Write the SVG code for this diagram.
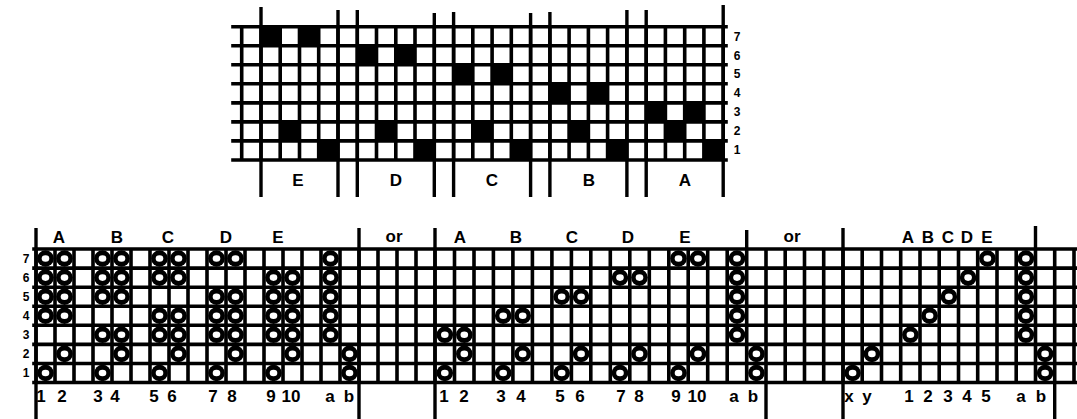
<svg xmlns="http://www.w3.org/2000/svg" width="1077" height="419" viewBox="0 0 1077 419">
<style>
.grid{fill:none;stroke:#000;stroke-width:3.6;stroke-linecap:square}
.div{fill:none;stroke:#000;stroke-width:3.4}
.blk{fill:#000}
.t{font-family:"Liberation Sans",Arial,sans-serif;font-weight:bold;fill:#000;text-anchor:middle}
.L{font-size:17px}
.N{font-size:17px}
.s{font-size:12px}
</style>
<defs>
<g id="o"><circle r="8.3" fill="#000"/><ellipse rx="3.8" ry="3.3" fill="#fff"/></g>
</defs>
<rect width="1077" height="419" fill="#fff"/>

<g id="top-draft">
<g id="top-cells" class="blk">
<rect x="261.0" y="26.7" width="19.3" height="19.1"/><rect x="299.5" y="26.7" width="19.3" height="19.1"/>
<rect x="357.3" y="45.7" width="19.3" height="19.1"/><rect x="395.8" y="45.7" width="19.3" height="19.1"/>
<rect x="453.6" y="64.8" width="19.3" height="19.1"/><rect x="492.1" y="64.8" width="19.3" height="19.1"/>
<rect x="549.9" y="83.8" width="19.3" height="19.1"/><rect x="588.4" y="83.8" width="19.3" height="19.1"/>
<rect x="646.2" y="102.9" width="19.3" height="19.1"/><rect x="684.7" y="102.9" width="19.3" height="19.1"/>
<rect x="280.2" y="121.9" width="19.3" height="19.1"/><rect x="376.5" y="121.9" width="19.3" height="19.1"/><rect x="472.8" y="121.9" width="19.3" height="19.1"/><rect x="569.1" y="121.9" width="19.3" height="19.1"/><rect x="665.4" y="121.9" width="19.3" height="19.1"/>
<rect x="318.7" y="140.9" width="19.3" height="19.1"/><rect x="415.0" y="140.9" width="19.3" height="19.1"/><rect x="511.3" y="140.9" width="19.3" height="19.1"/><rect x="607.6" y="140.9" width="19.3" height="19.1"/><rect x="703.9" y="140.9" width="19.3" height="19.1"/>
</g>
<path class="grid" d="M233 26.7H726M233 45.7H726M233 64.8H726M233 83.8H726M233 102.9H726M233 121.9H726M233 140.9H726M233 160H726
M241.7 26.7V160M261 26.7V160M280.2 26.7V160M299.5 26.7V160M318.7 26.7V160M338 26.7V160M357.3 26.7V160M376.5 26.7V160M395.8 26.7V160M415 26.7V160M434.3 26.7V160M453.6 26.7V160M472.8 26.7V160M492.1 26.7V160M511.3 26.7V160M530.6 26.7V160M549.9 26.7V160M569.1 26.7V160M588.4 26.7V160M607.6 26.7V160M626.9 26.7V160M646.2 26.7V160M665.4 26.7V160M684.7 26.7V160M703.9 26.7V160M723.2 26.7V160"/>
<path class="div" d="M261 7V197M338 10V197M357.3 10V197M434.3 13V197M453.6 12V197M530.6 13V197M549.9 12V197M626.9 10V197M646.2 10V197"/>
<path class="div" stroke-width="4" d="M723.2 5V197"/>
<g id="top-letters" class="t L">
<text x="298" y="186">E</text><text x="396" y="186">D</text><text x="492" y="186">C</text><text x="589" y="186">B</text><text x="685" y="186">A</text>
</g>
<g id="top-rows" class="t s">
<text x="737" y="41">7</text><text x="737" y="60">6</text><text x="737" y="78">5</text><text x="737" y="97">4</text><text x="737" y="116">3</text><text x="737" y="135">2</text><text x="737" y="154">1</text>
</g>
</g>

<g id="bottom-draft">
<path class="grid" d="M34 249H1077M34 268.1H1077M34 287.2H1077M34 306.2H1077M34 325.3H1077M34 344.4H1077M34 363.5H1077M34 382.5H1077
M36 249V382.5M55 249V382.5M74 249V382.5M93 249V382.5M112 249V382.5M131 249V382.5M150 249V382.5M169 249V382.5M188 249V382.5M207 249V382.5M226 249V382.5M245 249V382.5M264 249V382.5M283 249V382.5M302 249V382.5M321 249V382.5M340 249V382.5M359 249V382.5M378 249V382.5M397 249V382.5M416 249V382.5M435 249V382.5
M454.5 249V382.5M474 249V382.5M493.4 249V382.5M512.9 249V382.5M532.4 249V382.5M551.9 249V382.5M571.4 249V382.5M590.8 249V382.5M610.3 249V382.5M629.8 249V382.5M649.3 249V382.5M668.8 249V382.5M688.2 249V382.5M707.7 249V382.5M727.2 249V382.5M746.7 249V382.5
M766 249V382.5M785.2 249V382.5M804.5 249V382.5M823.7 249V382.5M843 249V382.5M862.2 249V382.5M881.5 249V382.5M900.7 249V382.5M920 249V382.5M939.2 249V382.5M958.5 249V382.5M977.7 249V382.5M997 249V382.5M1016.2 249V382.5M1035.5 249V382.5M1054.7 249V382.5M1074 249V382.5"/>
<path class="div" d="M359 228V419M435 228V419M746.7 230V249M766 382V419M843 228V419M1035.5 226V249M1054.7 382V419"/>
<path class="div" stroke-width="4" d="M36 228V419"/>

<g id="marks-1">
<use href="#o" x="45.5" y="258.5"/><use href="#o" x="64.5" y="258.5"/><use href="#o" x="102.5" y="258.5"/><use href="#o" x="121.5" y="258.5"/><use href="#o" x="159.5" y="258.5"/><use href="#o" x="178.5" y="258.5"/><use href="#o" x="216.5" y="258.5"/><use href="#o" x="235.5" y="258.5"/><use href="#o" x="330.5" y="258.5"/>
<use href="#o" x="45.5" y="277.6"/><use href="#o" x="64.5" y="277.6"/><use href="#o" x="102.5" y="277.6"/><use href="#o" x="121.5" y="277.6"/><use href="#o" x="159.5" y="277.6"/><use href="#o" x="178.5" y="277.6"/><use href="#o" x="273.5" y="277.6"/><use href="#o" x="292.5" y="277.6"/><use href="#o" x="330.5" y="277.6"/>
<use href="#o" x="45.5" y="296.7"/><use href="#o" x="64.5" y="296.7"/><use href="#o" x="102.5" y="296.7"/><use href="#o" x="121.5" y="296.7"/><use href="#o" x="216.5" y="296.7"/><use href="#o" x="235.5" y="296.7"/><use href="#o" x="273.5" y="296.7"/><use href="#o" x="292.5" y="296.7"/><use href="#o" x="330.5" y="296.7"/>
<use href="#o" x="45.5" y="315.7"/><use href="#o" x="64.5" y="315.7"/><use href="#o" x="159.5" y="315.7"/><use href="#o" x="178.5" y="315.7"/><use href="#o" x="216.5" y="315.7"/><use href="#o" x="235.5" y="315.7"/><use href="#o" x="273.5" y="315.7"/><use href="#o" x="292.5" y="315.7"/><use href="#o" x="330.5" y="315.7"/>
<use href="#o" x="102.5" y="334.8"/><use href="#o" x="121.5" y="334.8"/><use href="#o" x="159.5" y="334.8"/><use href="#o" x="178.5" y="334.8"/><use href="#o" x="216.5" y="334.8"/><use href="#o" x="235.5" y="334.8"/><use href="#o" x="273.5" y="334.8"/><use href="#o" x="292.5" y="334.8"/><use href="#o" x="330.5" y="334.8"/>
<use href="#o" x="64.5" y="353.9"/><use href="#o" x="121.5" y="353.9"/><use href="#o" x="178.5" y="353.9"/><use href="#o" x="235.5" y="353.9"/><use href="#o" x="292.5" y="353.9"/><use href="#o" x="349.5" y="353.9"/>
<use href="#o" x="45.5" y="373"/><use href="#o" x="102.5" y="373"/><use href="#o" x="159.5" y="373"/><use href="#o" x="216.5" y="373"/><use href="#o" x="273.5" y="373"/><use href="#o" x="349.5" y="373"/>
</g>
<g id="marks-2">
<use href="#o" x="678.5" y="258.5"/><use href="#o" x="698" y="258.5"/><use href="#o" x="737" y="258.5"/>
<use href="#o" x="620" y="277.6"/><use href="#o" x="639.5" y="277.6"/><use href="#o" x="737" y="277.6"/>
<use href="#o" x="561.7" y="296.7"/><use href="#o" x="581.1" y="296.7"/><use href="#o" x="737" y="296.7"/>
<use href="#o" x="503.2" y="315.7"/><use href="#o" x="522.7" y="315.7"/><use href="#o" x="737" y="315.7"/>
<use href="#o" x="444.8" y="334.8"/><use href="#o" x="464.3" y="334.8"/><use href="#o" x="737" y="334.8"/>
<use href="#o" x="464.3" y="353.9"/><use href="#o" x="522.7" y="353.9"/><use href="#o" x="581.1" y="353.9"/><use href="#o" x="639.5" y="353.9"/><use href="#o" x="698" y="353.9"/><use href="#o" x="756.4" y="353.9"/>
<use href="#o" x="444.8" y="373"/><use href="#o" x="503.2" y="373"/><use href="#o" x="561.7" y="373"/><use href="#o" x="620" y="373"/><use href="#o" x="678.5" y="373"/><use href="#o" x="756.4" y="373"/>
</g>
<g id="marks-3">
<use href="#o" x="987.4" y="258.5"/><use href="#o" x="1025.9" y="258.5"/>
<use href="#o" x="968.1" y="277.6"/><use href="#o" x="1025.9" y="277.6"/>
<use href="#o" x="948.9" y="296.7"/><use href="#o" x="1025.9" y="296.7"/>
<use href="#o" x="929.6" y="315.7"/><use href="#o" x="1025.9" y="315.7"/>
<use href="#o" x="910.4" y="334.8"/><use href="#o" x="1025.9" y="334.8"/>
<use href="#o" x="871.9" y="353.9"/><use href="#o" x="1045.1" y="353.9"/>
<use href="#o" x="852.6" y="373"/><use href="#o" x="1045.1" y="373"/>
</g>

<g id="bottom-rows" class="t s">
<text x="26" y="263">7</text><text x="26" y="282">6</text><text x="26" y="301">5</text><text x="26" y="320">4</text><text x="26" y="339">3</text><text x="26" y="358">2</text><text x="26" y="377">1</text>
</g>
<g id="bottom-top-labels" class="t L">
<text x="59" y="243">A</text><text x="117" y="243">B</text><text x="168" y="243">C</text><text x="226" y="243">D</text><text x="278" y="243">E</text>
<text x="394" y="242">or</text>
<text x="460" y="243">A</text><text x="516" y="243">B</text><text x="572" y="243">C</text><text x="628" y="243">D</text><text x="685" y="243">E</text>
<text x="792" y="242">or</text>
<text x="908" y="243">A</text><text x="928" y="243">B</text><text x="948" y="243">C</text><text x="967" y="243">D</text><text x="987" y="243">E</text>
</g>
<g id="bottom-numbers" class="t N">
<text x="41" y="402">1</text><text x="62" y="402">2</text><text x="98" y="402">3</text><text x="115" y="402">4</text><text x="154" y="402">5</text><text x="172" y="402">6</text><text x="213" y="402">7</text><text x="232" y="402">8</text><text x="271" y="402">9</text><text x="291" y="402">10</text><text x="330" y="402">a</text><text x="349" y="402">b</text>
<text x="444" y="402">1</text><text x="464" y="402">2</text><text x="501" y="402">3</text><text x="521" y="402">4</text><text x="560" y="402">5</text><text x="580" y="402">6</text><text x="621" y="402">7</text><text x="639" y="402">8</text><text x="676" y="402">9</text><text x="697" y="402">10</text><text x="734" y="402">a</text><text x="753" y="402">b</text>
<text x="849" y="402">x</text><text x="867" y="402">y</text><text x="909" y="402">1</text><text x="928" y="402">2</text><text x="948" y="402">3</text><text x="967" y="402">4</text><text x="986" y="402">5</text><text x="1021" y="402">a</text><text x="1041" y="402">b</text>
</g>
</g>
</svg>
